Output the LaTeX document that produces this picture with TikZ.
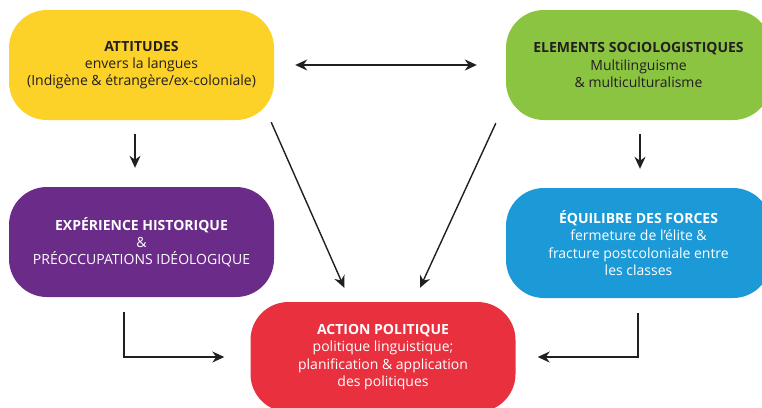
\documentclass[tikz,border=0pt]{standalone}
\usepackage{fontspec}
\setmainfont{Open Sans}
\usetikzlibrary{arrows.meta,calc}
\definecolor{cyellow}{HTML}{FCD128}
\definecolor{cgreen}{HTML}{8BC441}
\definecolor{cpurple}{HTML}{6B2B88}
\definecolor{cblue}{HTML}{1B9AD7}
\definecolor{cred}{HTML}{E8303F}
\definecolor{cdark}{HTML}{231F20}
\tikzset{
  box/.style={rounded corners=38pt, minimum width=265pt, minimum height=110pt,
    align=center, inner sep=0pt, font=\fontsize{14}{17.3}\selectfont},
  darktext/.style={text=cdark},
  lighttext/.style={text=white},
  arr/.style={draw=cdark, line width=1.4pt, -{Stealth[length=12pt,width=11pt]}},
  darr/.style={draw=cdark, line width=1.4pt, {Stealth[length=12pt,width=11pt]}-{Stealth[length=12pt,width=11pt]}}
}
\begin{document}
\begin{tikzpicture}[x=1pt,y=-1pt]
\useasboundingbox (0,0) rectangle (762,407);
\clip (0,0) rectangle (762,407);
\node[box, fill=cyellow, darktext] (att) at (141.5,65)
  {\textbf{ATTITUDES}\\envers la langues\\(Indigène \& étrangère/ex-coloniale)};
\node[box, fill=cgreen, darktext] (ele) at (638.5,65)
  {\textbf{ELEMENTS SOCIOLOGISTIQUES}\\Multilinguisme\\\& multiculturalisme};
\node[box, fill=cpurple, lighttext] (exp) at (141.5,242)
  {\textbf{EXPÉRIENCE HISTORIQUE}\\\&\\PRÉOCCUPATIONS IDÉOLOGIQUE};
\node[box, fill=cblue, lighttext] (equ) at (638.5,243)
  {\textbf{ÉQUILIBRE DES FORCES}\\fermeture de l’élite \&\\fracture postcoloniale entre\\les classes};
\node[box, fill=cred, lighttext] (act) at (383,357)
  {\textbf{ACTION POLITIQUE}\\politique linguistique;\\planification \& application\\des politiques};
\draw[darr, shorten <=21pt, shorten >=29pt] (att.east) -- (ele.west);
\draw[arr, shorten <=14pt, shorten >=19pt] ($(att.south)+(-6.5,0)$) -- ($(exp.north)+(-6.5,0)$);
\draw[arr, shorten <=14pt, shorten >=19pt] ($(ele.south)+(1.5,0)$) -- ($(equ.north)+(1.5,0)$);
\draw[arr] ($(att.south east)+(-3,2)$) -- ($(act.north west)+(94,-14)$);
\draw[arr] ($(ele.south west)+(-10,3)$) -- ($(act.north)+(37,-14)$);
\draw[arr, shorten >=26pt] ($(exp.south)+(-17.5,15)$) |- (act.west);
\draw[arr, shorten >=22pt] ($(equ.south)+(-0.5,15)$) |- (act.east);
\end{tikzpicture}
\end{document}
